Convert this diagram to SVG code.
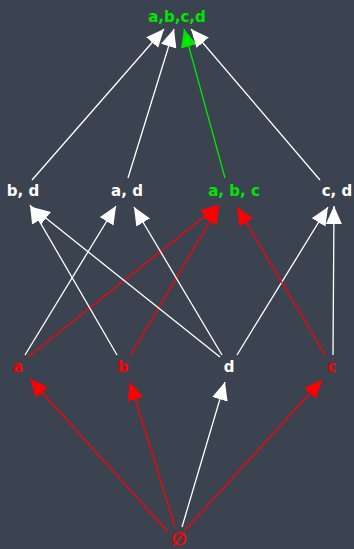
<svg xmlns="http://www.w3.org/2000/svg" width="354" height="549" viewBox="0 0 354 549">
  <style>
    text { font-family: "DejaVu Sans", "Liberation Sans", sans-serif; font-weight: bold; font-size: 15px; text-anchor: middle; }
    .w { fill: #ffffff; }
    .r { fill: #ff0000; }
    .g { fill: #00e600; }
    .ew { stroke: #ffffff; stroke-width: 1.3; fill: none; marker-end: url(#aw); }
    .er { stroke: #ff0000; stroke-width: 1.3; fill: none; marker-end: url(#ar); }
    .eg { stroke: #00e600; stroke-width: 1.3; fill: none; marker-end: url(#ag); }
  </style>
  <defs>
    <marker id="aw" markerUnits="userSpaceOnUse" markerWidth="19" markerHeight="17" refX="18" refY="8" orient="auto">
      <path d="M0,0 L18,8 L0,16 z" fill="#ffffff"/>
    </marker>
    <marker id="ar" markerUnits="userSpaceOnUse" markerWidth="19" markerHeight="17" refX="18" refY="8" orient="auto">
      <path d="M0,0 L18,8 L0,16 z" fill="#ff0000"/>
    </marker>
    <marker id="ag" markerUnits="userSpaceOnUse" markerWidth="19" markerHeight="17" refX="18" refY="8" orient="auto">
      <path d="M0,0 L18,8 L0,16 z" fill="#00e600"/>
    </marker>
  </defs>
  <rect width="354" height="549" fill="#3c4350"/>

  <g id="edges">
    <!-- second row to the top set -->
    <line class="ew" x1="32" y1="180" x2="164" y2="29"/>
    <line class="ew" x1="128" y1="178" x2="174" y2="29"/>
    <line class="eg" x1="225" y1="178" x2="184" y2="29"/>
    <line class="ew" x1="320" y1="180" x2="191" y2="29"/>
    <!-- singletons to pairs and triple -->
    <line class="ew" x1="25" y1="355" x2="116" y2="206"/>
    <line class="er" x1="28" y1="357" x2="219" y2="205"/>
    <line class="ew" x1="117" y1="355" x2="30" y2="205"/>
    <line class="er" x1="130" y1="356" x2="219" y2="206"/>
    <line class="ew" x1="220" y1="357" x2="32" y2="207"/>
    <line class="ew" x1="222" y1="355" x2="134" y2="207"/>
    <line class="ew" x1="237" y1="355" x2="328" y2="207"/>
    <line class="er" x1="325" y1="355" x2="237" y2="207"/>
    <line class="ew" x1="333" y1="355" x2="334" y2="206"/>
    <!-- empty set to singletons -->
    <line class="er" x1="168" y1="532" x2="30" y2="379"/>
    <line class="er" x1="175" y1="527" x2="130" y2="382"/>
    <line class="ew" x1="182" y1="527" x2="225" y2="382"/>
    <line class="er" x1="185" y1="530" x2="322" y2="380"/>
  </g>

  <g id="n-abcd"><text class="g" x="177" y="22">a,b,c,d</text></g>
  <g id="n-bd"><text class="w" x="23" y="196">b, d</text></g>
  <g id="n-ad"><text class="w" x="127" y="196">a, d</text></g>
  <g id="n-abc"><text class="g" x="234" y="196">a, b, c</text></g>
  <g id="n-cd"><text class="w" x="337" y="196">c, d</text></g>
  <g id="n-a"><text class="r" x="18" y="372">a</text></g>
  <g id="n-b"><text class="r" x="123" y="372">b</text></g>
  <g id="n-d"><text class="w" x="229" y="372">d</text></g>
  <g id="n-c"><text class="r" x="332" y="372">c</text></g>
  <g id="n-empty"><text class="r" x="179" y="545" style="font-size:18px">∅</text></g>
</svg>
